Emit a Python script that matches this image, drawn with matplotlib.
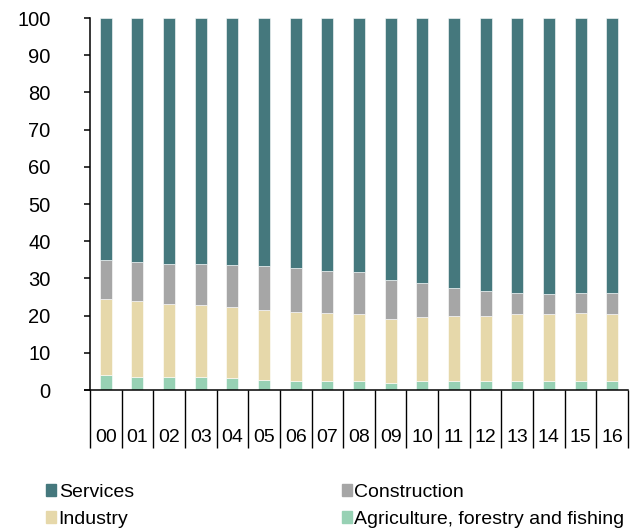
import matplotlib
matplotlib.use("Agg")
import matplotlib.pyplot as plt
import numpy as np
from matplotlib.patches import Patch

years = ["00", "01", "02", "03", "04", "05", "06", "07", "08", "09",
         "10", "11", "12", "13", "14", "15", "16"]
# cumulative boundaries
agri_top = [4.0, 3.6, 3.6, 3.6, 3.3, 2.8, 2.4, 2.4, 2.4, 2.0, 2.4, 2.4, 2.4, 2.4, 2.4, 2.4, 2.4]
industry_top = [24.4, 24.0, 23.2, 22.8, 22.3, 21.6, 21.1, 20.7, 20.3, 19.1, 19.5, 19.9, 19.9, 20.3, 20.3, 20.7, 20.3]
construction_top = [34.9, 34.4, 34.0, 34.0, 33.6, 33.2, 32.8, 32.0, 31.6, 29.5, 28.7, 27.4, 26.6, 26.2, 25.8, 26.2, 26.2]
total = [100] * 17

agri = np.array(agri_top)
industry = np.array(industry_top) - agri
construction = np.array(construction_top) - np.array(industry_top)
services = np.array(total) - np.array(construction_top)

c_serv = "#45787d"
c_cons = "#a6a6a6"
c_ind = "#e6d8aa"
c_agr = "#97d1b4"

regular = ["Liberation Sans", "DejaVu Sans"]

fig = plt.figure(figsize=(6.37, 5.30), dpi=100)
ax = fig.add_axes([90/637, 1 - 390/530, (628-90)/637, (390-18)/530])

x = np.arange(len(years))
w = 0.38
kw = dict(width=w, edgecolor="white", linewidth=0.4)
ax.bar(x, agri, color=c_agr, **kw)
ax.bar(x, industry, bottom=agri, color=c_ind, **kw)
ax.bar(x, construction, bottom=np.array(industry_top), color=c_cons, **kw)
ax.bar(x, services, bottom=np.array(construction_top), color=c_serv, **kw)

ax.set_xlim(-0.5, len(years) - 0.5)
ax.set_ylim(0, 100)
ax.set_yticks(np.arange(0, 101, 10))
for s in ["top", "right"]:
    ax.spines[s].set_visible(False)
for s in ["left", "bottom"]:
    ax.spines[s].set_linewidth(1.1)
ax.plot([-0.012, 0], [0, 0], transform=ax.transAxes, color="black", lw=1.1,
        clip_on=False, solid_capstyle="butt")

ax.tick_params(axis="y", direction="out", length=4.5, width=1.1, pad=24, labelsize=14.5)
for lab in ax.get_yticklabels():
    lab.set_family(regular)

ax.set_xticks(np.arange(-0.5, len(years), 1.0))
ax.set_xticklabels([])
ax.tick_params(axis="x", which="major", direction="out", length=42, width=1.0)
ax.set_xticks(x, minor=True)
ax.set_xticklabels(years, minor=True)
ax.tick_params(axis="x", which="minor", length=0, pad=28, labelsize=14)
for lab in ax.get_xticklabels(minor=True):
    lab.set_family(regular)

handles = [Patch(color=c_serv), Patch(color=c_ind), Patch(color=c_cons), Patch(color=c_agr)]
labels = ["Services", "Industry", "Construction", "Agriculture, forestry and fishing"]
fig.legend(handles, labels, ncol=2, loc="upper left", bbox_to_anchor=(46/637, 1 - 484/530),
           frameon=False, prop={"family": regular, "size": 14},
           handlelength=0.5, handleheight=0.6, handletextpad=0.15,
           columnspacing=10.7, labelspacing=0.5, borderaxespad=0, borderpad=0)

fig.savefig("out.png", dpi=100)
